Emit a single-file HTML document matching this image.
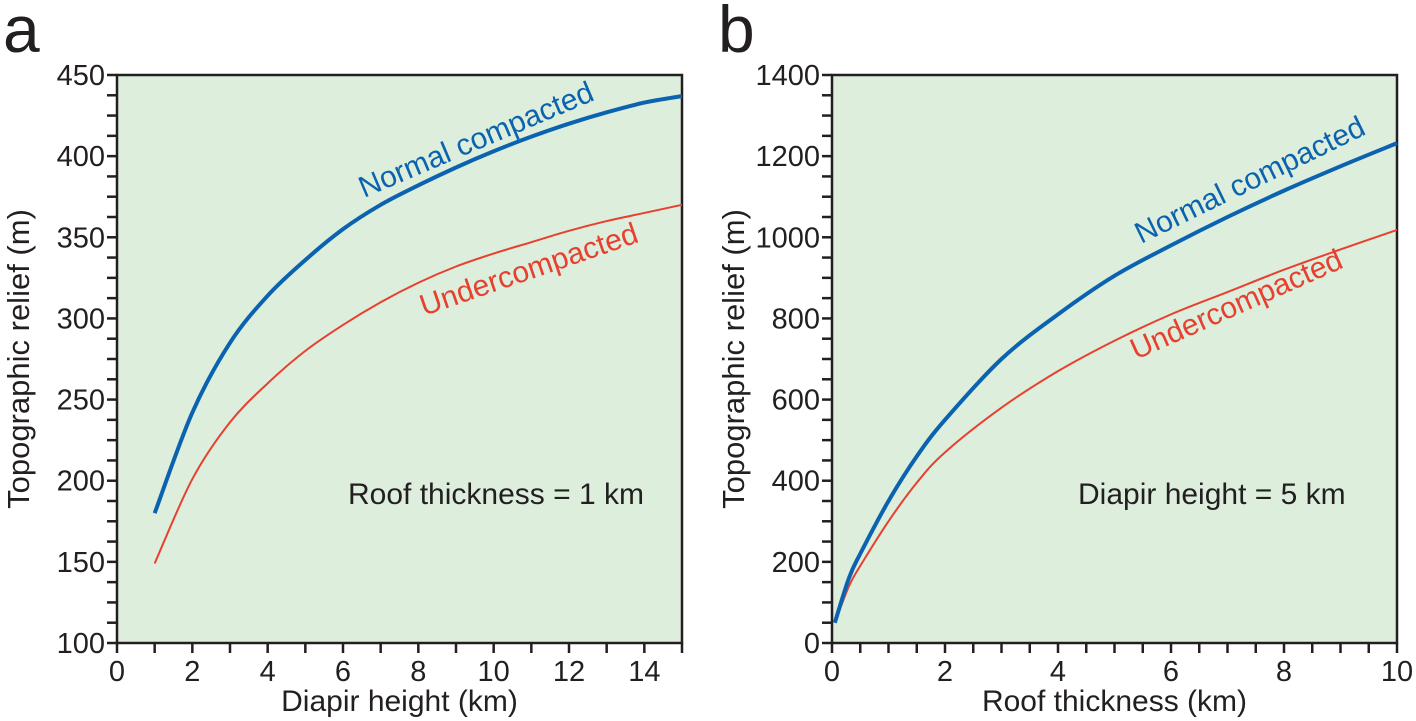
<!DOCTYPE html>
<html><head><meta charset="utf-8"><style>body{margin:0;background:#fff}svg{display:block;font-family:"Liberation Sans",Arial,sans-serif}</style></head>
<body>
<svg id="c" width="1416" height="721" viewBox="0 0 1416 721"></svg>
<script>
const aX=[1,2,3,4,5,6,7,8,9,10,11,12,13,14,15];
const aNormal=[180,242,285,314,336,355,370,382,393,403,412,420,427,433,437];
const aUnder=[149,201,236,260,280,296,310,322,332,340,347,354,360,365,370];
const bX=[0.05,0.3,0.5,1,1.5,2,3,4,5,6,7,8,9,10];
const bNormal=[50,160,220,350,460,550,700,810,905,980,1050,1115,1175,1232];
const bUnder=[50,140,190,300,395,470,580,670,745,810,865,920,970,1018];
const aXTicks=[0,2,4,6,8,10,12,14];
const aYTicks=[100,150,200,250,300,350,400,450];
const bXTicks=[0,2,4,6,8,10];
const bYTicks=[0,200,400,600,800,1000,1200,1400];
const NS="http://www.w3.org/2000/svg";
const svg=document.getElementById('c');
function mk(t,a,p){const e=document.createElementNS(NS,t);for(const k in a)e.setAttribute(k,a[k]);(p||svg).appendChild(e);return e;}
function smooth(pts){let d='M'+pts[0][0]+','+pts[0][1];for(let i=0;i<pts.length-1;i++){const p0=pts[i-1]||pts[i],p1=pts[i],p2=pts[i+1],p3=pts[i+2]||p2;
 d+=`C${p1[0]+(p2[0]-p0[0])/6},${p1[1]+(p2[1]-p0[1])/6} ${p2[0]-(p3[0]-p1[0])/6},${p2[1]-(p3[1]-p1[1])/6} ${p2[0]},${p2[1]}`;}return d;}
function panel(o){
 const g=mk('g',{});
 
 
 const sx=v=>o.x0+(v-o.xmin)/(o.xmax-o.xmin)*(o.x1-o.x0);
 const sy=v=>o.y0-(v-o.ymin)/(o.ymax-o.ymin)*(o.y0-o.y1);
 const bg=mk('rect',{x:o.x0,y:o.y1,width:o.x1-o.x0,height:o.y0-o.y1,fill:'#ddeedd',stroke:'#231f20','stroke-width':2.5},g);
 
 
 for(let v=o.xmin;v<=o.xmax+1e-9;v+=o.xminor){mk('line',{x1:sx(v),x2:sx(v),y1:o.y0,y2:o.y0+10,stroke:'#231f20','stroke-width':2.5},g);}
 for(let v=o.ymin;v<=o.ymax+1e-9;v+=o.yminor){mk('line',{x1:o.x0,x2:o.x0-10,y1:sy(v),y2:sy(v),stroke:'#231f20','stroke-width':2.5},g);}
 o.xt.forEach(v=>{const t=mk('text',{x:sx(v),y:o.y0+38,'text-anchor':'middle','font-size':29,fill:'#231f20'},g);t.textContent=v;
  
  });
 o.yt.forEach(v=>{const t=mk('text',{x:o.x0-12,y:sy(v)+10,'text-anchor':'end','font-size':29,fill:'#231f20'},g);t.textContent=v;
  
  });
 const xt=mk('text',{x:(o.x0+o.x1)/2,y:o.y0+68,'text-anchor':'middle','font-size':30,fill:'#231f20'},g);xt.textContent=o.xtitle;
 
 
 const yt=mk('text',{x:0,y:0,'text-anchor':'middle','font-size':31,fill:'#231f20',transform:`translate(${o.x0-88},${(o.y0+o.y1)/2}) rotate(-90)`},g);yt.textContent='Topographic relief (m)';
 
 
 const pl=mk('text',{x:o.x0-114,y:52,'font-size':66,fill:'#231f20'},g);pl.textContent=o.letter;
 
 
 const l1=mk('path',{d:smooth(o.xs.map((v,i)=>[sx(v),sy(o.under[i])])),fill:'none',stroke:'#e8402f','stroke-width':2},g);
 
 
 const l2=mk('path',{d:smooth(o.xs.map((v,i)=>[sx(v),sy(o.normal[i])])),fill:'none',stroke:'#0b63b0','stroke-width':4},g);
 
 
 const n=mk('text',{x:0,y:0,'font-size':30,fill:'#0b63b0',transform:o.nT},g);n.textContent='Normal compacted';
 
 
 const u=mk('text',{x:0,y:0,'font-size':30,fill:'#e8402f',transform:o.uT},g);u.textContent='Undercompacted';
 
 
 const a=mk('text',{x:o.annX,y:504,'font-size':30,fill:'#231f20'},g);a.textContent=o.ann;
 
 
}
panel({name:'panel-a',letter:'a',x0:117,x1:682,y0:643,y1:75,xmin:0,xmax:15,ymin:100,ymax:450,xminor:1,yminor:12.5,xt:aXTicks,yt:aYTicks,xs:aX,normal:aNormal,under:aUnder,xtitle:'Diapir height (km)',ann:'Roof thickness = 1 km',annX:348,nT:'translate(364,198) rotate(-23)',uT:'translate(424,316) rotate(-19)'});
panel({name:'panel-b',letter:'b',x0:832,x1:1397,y0:643,y1:75,xmin:0,xmax:10,ymin:0,ymax:1400,xminor:0.5,yminor:50,xt:bXTicks,yt:bYTicks,xs:bX,normal:bNormal,under:bUnder,xtitle:'Roof thickness (km)',ann:'Diapir height = 5 km',annX:1078,nT:'translate(1141,244) rotate(-26)',uT:'translate(1136,360) rotate(-24)'});
</script>
</body></html>
